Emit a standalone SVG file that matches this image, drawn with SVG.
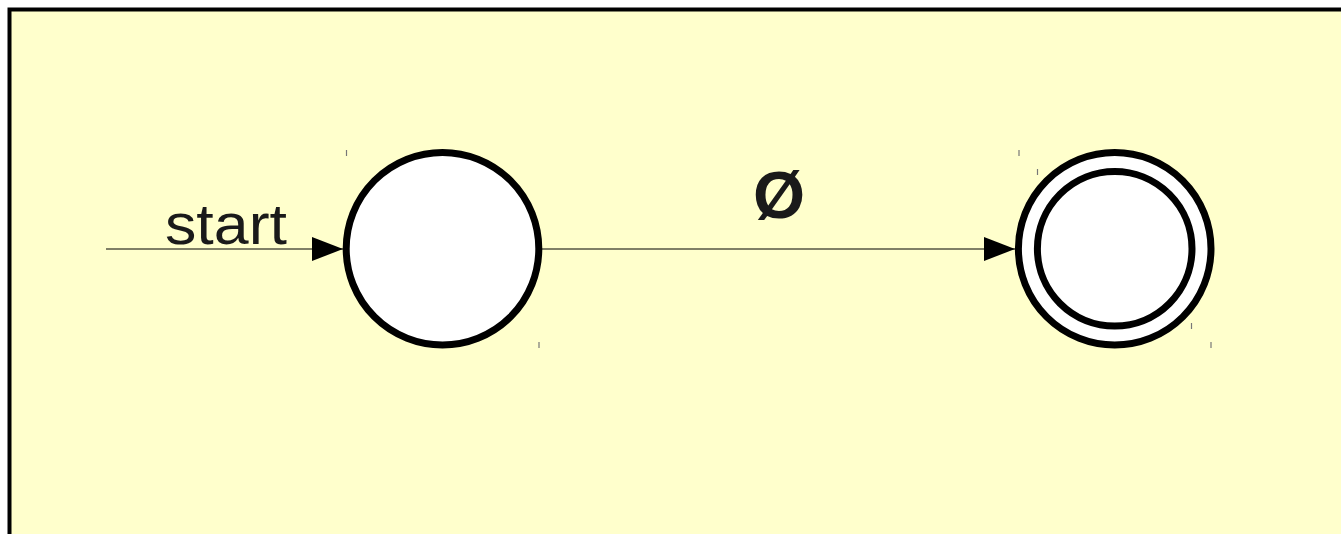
<svg xmlns="http://www.w3.org/2000/svg" width="1341" height="534" viewBox="0 0 1341 534">
<style>
.state{fill:#ffffff;stroke:#000000;stroke-width:7}
.edge{stroke:#000000;stroke-width:1;fill:none}
.tick{stroke:#777777;stroke-width:1.2}
.lbl{font-family:"Liberation Sans",Arial,sans-serif;fill:#1a1a1a}
</style>
<defs>
<marker id="arr" markerUnits="userSpaceOnUse" markerWidth="32" markerHeight="24" refX="31" refY="12" orient="auto">
<path d="M0,0 L31,12 L0,24 Z" fill="#000000"/>
</marker>
</defs>
<rect x="0" y="0" width="1341" height="534" fill="#ffffff"/>
<rect x="9.5" y="9.5" width="1340" height="540" fill="#ffffcc" stroke="#000000" stroke-width="4"/>
<g id="connectors">
<line class="edge" x1="106" y1="249" x2="343" y2="249" marker-end="url(#arr)"/>
<line class="edge" x1="542" y1="249" x2="1015" y2="249" marker-end="url(#arr)"/>
<text class="lbl" x="226" y="244" font-size="58" text-anchor="middle" textLength="122" lengthAdjust="spacingAndGlyphs">start</text>
<text class="lbl" x="779" y="218" font-size="67" font-weight="bold" text-anchor="middle">Ø</text>
</g>
<g id="q0">
<circle class="state" cx="442.5" cy="248.7" r="96.3"/>
<line class="tick" x1="346.5" y1="150" x2="346.5" y2="156"/>
<line class="tick" x1="539" y1="342" x2="539" y2="348"/>
</g>
<g id="q1">
<circle class="state" cx="1114.7" cy="248.8" r="96.3"/>
<circle class="state" cx="1114.7" cy="248.8" r="77.3"/>
<line class="tick" x1="1019" y1="150" x2="1019" y2="156"/>
<line class="tick" x1="1037.5" y1="169" x2="1037.5" y2="175"/>
<line class="tick" x1="1191.5" y1="323" x2="1191.5" y2="329"/>
<line class="tick" x1="1211" y1="342" x2="1211" y2="348"/>
</g>
</svg>
